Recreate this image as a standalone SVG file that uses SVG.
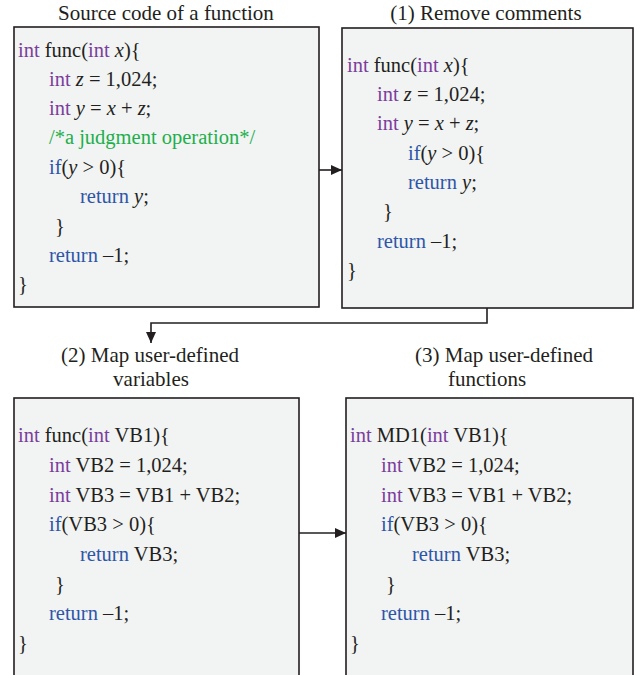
<svg xmlns="http://www.w3.org/2000/svg" width="640" height="675" viewBox="0 0 640 675">
<style>
.ti{font-family:"Liberation Serif","Times New Roman",serif;font-size:21px;fill:#231f20}
.c{font-family:"Liberation Serif","Times New Roman",serif;font-size:20.5px;fill:#231f20}
.k{fill:#7a3d9c}
.b{fill:#2e56a8}
.g{fill:#1daf4c}
.i{font-style:italic}
.box{fill:#f2f3f3;stroke:#231f20;stroke-width:1.6}
.ln{fill:none;stroke:#231f20;stroke-width:1.6}
</style>
<defs>
<marker id="ah" markerUnits="userSpaceOnUse" markerWidth="11" markerHeight="10" refX="11" refY="5" orient="auto">
<path d="M0,0 L11,5 L0,10 z" fill="#231f20"/>
</marker>
</defs>
<rect width="640" height="675" fill="#ffffff"/>

<g id="connectors">
<line class="ln" x1="319" y1="170" x2="342" y2="170" marker-end="url(#ah)"/>
<path class="ln" d="M487,308 V323 H151 V343" marker-end="url(#ah)"/>
<line class="ln" x1="299" y1="533" x2="346" y2="533" marker-end="url(#ah)"/>
</g>

<g id="source">
<text class="ti" x="166" y="20" text-anchor="middle">Source code of a function</text>
<rect class="box" x="14" y="27" width="305" height="280"/>
<text class="c" x="18" y="57"><tspan class="k">int</tspan> func(<tspan class="k">int</tspan> <tspan class="i">x</tspan>){</text>
<text class="c" x="49" y="86"><tspan class="k">int</tspan> <tspan class="i">z</tspan> = 1,024;</text>
<text class="c" x="49" y="115"><tspan class="k">int</tspan> <tspan class="i">y</tspan> = <tspan class="i">x</tspan> + <tspan class="i">z</tspan>;</text>
<text class="c g" x="49" y="144">/*a judgment operation*/</text>
<text class="c" x="49" y="174"><tspan class="b">if</tspan>(<tspan class="i">y</tspan> &gt; 0){</text>
<text class="c" x="80" y="203"><tspan class="b">return</tspan> <tspan class="i">y</tspan>;</text>
<text class="c" x="55" y="233">}</text>
<text class="c" x="49" y="262"><tspan class="b">return</tspan> –1;</text>
<text class="c" x="18" y="291">}</text>
</g>

<g id="remove-comments">
<text class="ti" x="486" y="20" text-anchor="middle">(1) Remove comments</text>
<rect class="box" x="342" y="28" width="291" height="280"/>
<text class="c" x="347" y="72"><tspan class="k">int</tspan> func(<tspan class="k">int</tspan> <tspan class="i">x</tspan>){</text>
<text class="c" x="377" y="101"><tspan class="k">int</tspan> <tspan class="i">z</tspan> = 1,024;</text>
<text class="c" x="377" y="130"><tspan class="k">int</tspan> <tspan class="i">y</tspan> = <tspan class="i">x</tspan> + <tspan class="i">z</tspan>;</text>
<text class="c" x="408" y="160"><tspan class="b">if</tspan>(<tspan class="i">y</tspan> &gt; 0){</text>
<text class="c" x="408" y="189"><tspan class="b">return</tspan> <tspan class="i">y</tspan>;</text>
<text class="c" x="383" y="218">}</text>
<text class="c" x="377" y="248"><tspan class="b">return</tspan> –1;</text>
<text class="c" x="347" y="277">}</text>
</g>

<g id="map-variables">
<text class="ti" x="150" y="362" text-anchor="middle">(2) Map user-defined</text>
<text class="ti" x="151" y="386" text-anchor="middle">variables</text>
<rect class="box" x="14" y="398" width="285" height="290"/>
<text class="c" x="18" y="442"><tspan class="k">int</tspan> func(<tspan class="k">int</tspan> VB1){</text>
<text class="c" x="49" y="472"><tspan class="k">int</tspan> VB2 = 1,024;</text>
<text class="c" x="49" y="502"><tspan class="k">int</tspan> VB3 = VB1 + VB2;</text>
<text class="c" x="49" y="531"><tspan class="b">if</tspan>(VB3 &gt; 0){</text>
<text class="c" x="80" y="561"><tspan class="b">return</tspan> VB3;</text>
<text class="c" x="55" y="591">}</text>
<text class="c" x="49" y="620"><tspan class="b">return</tspan> –1;</text>
<text class="c" x="18" y="650">}</text>
</g>

<g id="map-functions">
<text class="ti" x="504" y="362" text-anchor="middle">(3) Map user-defined</text>
<text class="ti" x="487" y="386" text-anchor="middle">functions</text>
<rect class="box" x="346" y="398" width="287" height="290"/>
<text class="c" x="350" y="442"><tspan class="k">int</tspan> MD1(<tspan class="k">int</tspan> VB1){</text>
<text class="c" x="381" y="472"><tspan class="k">int</tspan> VB2 = 1,024;</text>
<text class="c" x="381" y="502"><tspan class="k">int</tspan> VB3 = VB1 + VB2;</text>
<text class="c" x="381" y="531"><tspan class="b">if</tspan>(VB3 &gt; 0){</text>
<text class="c" x="412" y="561"><tspan class="b">return</tspan> VB3;</text>
<text class="c" x="386" y="591">}</text>
<text class="c" x="381" y="620"><tspan class="b">return</tspan> –1;</text>
<text class="c" x="350" y="650">}</text>
</g>
</svg>
